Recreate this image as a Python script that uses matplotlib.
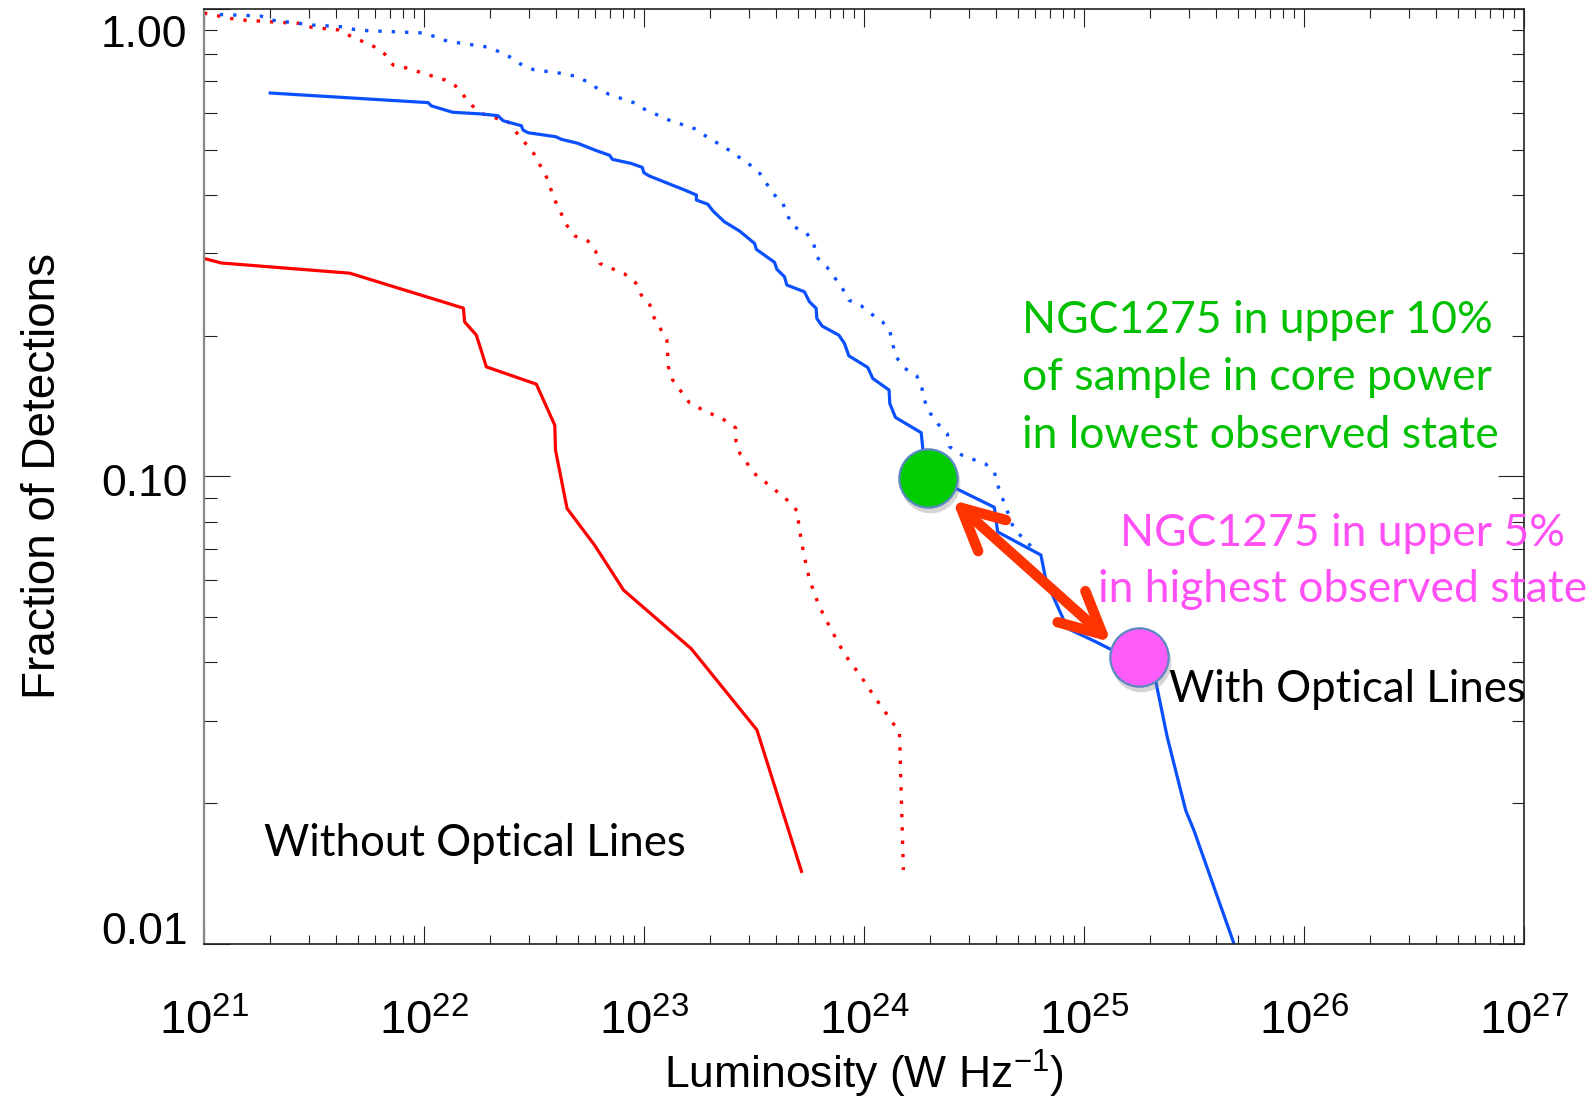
import matplotlib.pyplot as plt
import matplotlib.transforms as mtransforms
from matplotlib.patches import FancyArrowPatch
from matplotlib.ticker import NullFormatter

plt.rcParams['font.family'] = ['Liberation Sans', 'DejaVu Sans']
plt.rcParams['mathtext.fontset'] = 'custom'
plt.rcParams['mathtext.rm'] = 'Liberation Sans'
plt.rcParams['mathtext.it'] = 'Liberation Sans:italic'

# cumulative fraction of detections vs core luminosity (W/Hz)
# without optical lines, solid (red)
nolines_lum = [1.0e21, 1.2e21, 4.6e21, 1.51e22, 1.53e22, 1.73e22, 1.82e22, 1.92e22,
               3.24e22, 3.93e22, 3.96e22, 4.47e22, 5.97e22, 8.08e22, 1.64e23,
               3.26e23, 5.2e23]
nolines_frac = [0.2925, 0.286, 0.272, 0.229, 0.214, 0.2005, 0.186, 0.1715,
                0.1575, 0.1287, 0.1138, 0.0854, 0.0712, 0.0571, 0.0428,
                0.0287, 0.0143]

# without optical lines, dotted (red)
nolines_dot_lum = [1.0e21, 1.31e21, 1.50e21, 2.33e21, 2.70e21, 3.08e21, 4.10e21, 4.60e21,
                   5.93e21, 6.64e21, 7.24e21, 8.34e21, 1.25e22, 1.39e22, 1.52e22,
                   1.66e22, 1.85e22, 2.43e22, 2.63e22, 3.15e22, 3.60e22, 3.93e22,
                   4.47e22, 4.86e22, 5.56e22, 6.01e22, 6.29e22, 8.17e22, 9.16e22,
                   9.72e22, 1.064e23, 1.11e23, 1.27e23, 1.29e23, 1.35e23, 1.61e23,
                   1.82e23, 2.36e23, 2.61e23, 2.62e23, 2.74e23, 3.26e23, 3.68e23,
                   4.58e23, 5.00e23, 5.05e23, 5.31e23, 5.65e23, 6.23e23, 7.11e23,
                   8.15e23, 9.70e23, 1.135e24, 1.34e24, 1.45e24, 1.51e24]
nolines_dot_frac = [0.9795, 0.954, 0.946, 0.934, 0.931, 0.913, 0.901, 0.876,
                    0.830, 0.800, 0.758, 0.747, 0.704, 0.684, 0.651,
                    0.620, 0.596, 0.572, 0.544, 0.491, 0.437, 0.390,
                    0.3436, 0.3266, 0.3187, 0.304, 0.2855, 0.271, 0.2595,
                    0.2443, 0.2325, 0.2188, 0.1957, 0.1715, 0.1607, 0.1437,
                    0.1393, 0.1315, 0.127, 0.1186, 0.1114, 0.1001, 0.0961,
                    0.0882, 0.084, 0.0787, 0.0687, 0.0602, 0.0530, 0.0469,
                    0.0417, 0.0373, 0.0334, 0.0299, 0.0283, 0.0144]

# with optical lines, solid (blue)
lines_lum = [2.0e21, 1.044e22, 1.08e22, 1.35e22, 1.85e22, 2.17e22, 2.29e22, 2.77e22,
             2.82e22, 2.97e22, 3.97e22, 4.21e22, 5.01e22, 5.97e22, 6.98e22, 7.18e22,
             8.75e22, 9.82e22, 9.99e22, 1.06e23, 1.53e23, 1.73e23, 1.73e23, 1.95e23,
             2.06e23, 2.32e23, 2.72e23, 3.18e23, 3.24e23, 3.92e23, 4.02e23, 4.35e23,
             4.46e23, 5.36e23, 5.65e23, 6.06e23, 6.10e23, 6.45e23, 7.68e23, 8.15e23,
             8.53e23, 1.04e24, 1.096e24, 1.30e24, 1.31e24, 1.39e24, 1.82e24, 1.85e24,
             1.86e24, 2.67e24, 3.91e24, 4.05e24, 6.37e24, 6.71e24, 8.41e24, 1.13e25,
             1.32e25, 2.12e25, 2.39e25, 2.90e25, 3.16e25, 4.81e25]
lines_frac = [0.6605, 0.630, 0.620, 0.6008, 0.5956, 0.5906, 0.5762, 0.5623,
              0.5505, 0.5433, 0.5326, 0.5259, 0.5156, 0.4989, 0.486, 0.4765,
              0.467, 0.458, 0.446, 0.4388, 0.4097, 0.3997, 0.390, 0.382,
              0.3694, 0.3504, 0.3347, 0.315, 0.3059, 0.287, 0.2772, 0.2673,
              0.2566, 0.2482, 0.2363, 0.2288, 0.2178, 0.2097, 0.2005, 0.1925,
              0.1811, 0.171, 0.162, 0.153, 0.1432, 0.1337, 0.124, 0.1148,
              0.1031, 0.0938, 0.0859, 0.0761, 0.0679, 0.060, 0.0473, 0.0443,
              0.0427, 0.0364, 0.0277, 0.0193, 0.0175, 0.0100]

# with optical lines, dotted (blue)
lines_dot_lum = [1.18e21, 1.36e21, 1.81e21, 2.03e21, 3.12e21, 4.15e21, 4.77e21, 5.51e21,
                 9.80e21, 1.12e22, 1.28e22, 1.48e22, 1.95e22, 2.22e22, 2.51e22, 2.79e22,
                 3.15e22, 4.18e22, 4.84e22, 5.47e22, 6.07e22, 6.90e22, 7.89e22, 8.97e22,
                 1.006e23, 1.30e23, 1.70e23, 1.89e23, 2.42e23, 3.04e23, 3.37e23, 3.61e23,
                 3.88e23, 4.28e23, 4.48e23, 4.80e23, 5.46e23, 5.91e23, 6.12e23, 6.77e23,
                 7.95e23, 8.52e23, 9.68e23, 1.08e24, 1.21e24, 1.31e24, 1.35e24, 1.40e24,
                 1.53e24, 1.74e24, 1.83e24, 1.88e24, 2.00e24, 2.17e24, 2.39e24, 2.45e24,
                 2.79e24, 3.58e24, 3.91e24, 4.05e24, 4.73e24, 5.17e24, 5.74e24, 6.13e24]
lines_dot_frac = [0.972, 0.970, 0.965, 0.946, 0.923, 0.916, 0.904, 0.898,
                  0.888, 0.872, 0.852, 0.844, 0.828, 0.808, 0.785, 0.758,
                  0.741, 0.728, 0.718, 0.700, 0.678, 0.657, 0.643, 0.630,
                  0.610, 0.578, 0.554, 0.536, 0.4995, 0.4632, 0.444, 0.4226,
                  0.4017, 0.3837, 0.3616, 0.3418, 0.3325, 0.314, 0.294, 0.2807,
                  0.2532, 0.2383, 0.2319, 0.2225, 0.2144, 0.2046, 0.1919, 0.180,
                  0.1704, 0.1638, 0.1552, 0.1456, 0.1365, 0.1294, 0.1235, 0.1157,
                  0.111, 0.1062, 0.1023, 0.0958, 0.0787, 0.0745, 0.0709, 0.0689]

# NGC1275 low and high states
ngc_low = (1.96e24, 0.099)
ngc_high = (1.78e25, 0.041)
arrow_ends = [(2.52e24, 0.089), (1.33e25, 0.0442)]

yticks = [0.01, 0.1, 1.0]
ytick_labels = ['0.01', '0.10', '1.00']

W, H = 1594, 1103
fig = plt.figure(figsize=(W / 100, H / 100), dpi=100)
ax = fig.add_axes([204 / W, 1 - 944 / H, 1320 / W, 935.2 / H])

red = '#ff0000'
blue = '#0a50ff'
dots = (0, (1, 3))

ax.plot(nolines_lum, nolines_frac, color=red, lw=2.3)
ax.plot(nolines_dot_lum, nolines_dot_frac, color=red, lw=2.4, ls=dots)
ax.plot(lines_dot_lum, lines_dot_frac, color=blue, lw=2.4, ls=dots)
ax.plot(lines_lum, lines_frac, color=blue, lw=2.3)

# circles with a soft drop shadow
shadow = ax.transData + mtransforms.ScaledTranslation(0.015, -0.05, fig.dpi_scale_trans)
for (lx, fy), col in [(ngc_low, '#00cc00'), (ngc_high, '#ff5cf8')]:
    ax.plot([lx], [fy], 'o', ms=43, mfc='#777777', mec='none', alpha=0.3,
            transform=shadow, zorder=4)
    ax.plot([lx], [fy], 'o', ms=42, mfc=col, mec='#5b88c2', mew=1.6, zorder=5)

arrow = FancyArrowPatch(arrow_ends[0], arrow_ends[1], arrowstyle='<->,head_length=1.5,head_width=0.75',
                        mutation_scale=20, color='#ff3300', lw=7.5, shrinkA=0, shrinkB=0,
                        capstyle='round', joinstyle='round', zorder=6)
ax.add_patch(arrow)

ax.set_xscale('log')
ax.set_yscale('log')
ax.set_xlim(1e21, 1e27)
ax.set_ylim(0.01, 1.0)

ax.set_yticks(yticks)
ax.set_yticklabels(ytick_labels)
ax.yaxis.set_minor_formatter(NullFormatter())
ax.xaxis.set_minor_formatter(NullFormatter())

ax.tick_params(which='both', direction='in', top=True, right=True, width=0.8, color='#222222')
ax.tick_params(axis='x', which='major', length=13, labelsize=34, pad=40)
ax.tick_params(axis='x', which='minor', length=6.5)
ax.tick_params(axis='y', which='major', length=19, labelsize=32, pad=12)
ax.tick_params(axis='y', which='minor', length=9)

for side in ['top', 'right', 'bottom']:
    ax.spines[side].set_linewidth(1.2)
    ax.spines[side].set_color('#222222')
ax.spines['left'].set_linewidth(1.6)
ax.spines['left'].set_color('#888888')

# y labels in the original sit a little off their ticks
for lab, dy in zip(ax.get_yticklabels(), [16, -4, -22]):
    lab.set_transform(lab.get_transform() + mtransforms.ScaledTranslation(0, dy / 100, fig.dpi_scale_trans))

ax.set_xlabel('Luminosity (W Hz$^{-1}$)', fontsize=32, labelpad=2)
ax.set_ylabel('Fraction of Detections', fontsize=33, labelpad=26)

note_font = ['Lato', 'DejaVu Sans']
green_lines = ['NGC1275 in upper 10%', 'of sample in core power', 'in lowest observed state']
for txt, y in zip(green_lines, [321, 377, 435]):
    fig.text(1022 / W, 1 - y / H, txt, color='#00c000', fontsize=32, family=note_font,
             ha='left', va='center')
pink_lines = ['NGC1275 in upper 5%', 'in highest observed state']
for txt, y in zip(pink_lines, [534, 590]):
    fig.text(1343 / W, 1 - y / H, txt, color='#ff4ff5', fontsize=32, family=note_font,
             ha='center', va='center')
fig.text(1169 / W, 1 - 689 / H, 'With Optical Lines', color='black', fontsize=31.5,
         family=note_font, ha='left', va='center')
fig.text(264 / W, 1 - 844 / H, 'Without Optical Lines', color='black', fontsize=31.5,
         family=note_font, ha='left', va='center')

fig.savefig('out.png', dpi=100)
